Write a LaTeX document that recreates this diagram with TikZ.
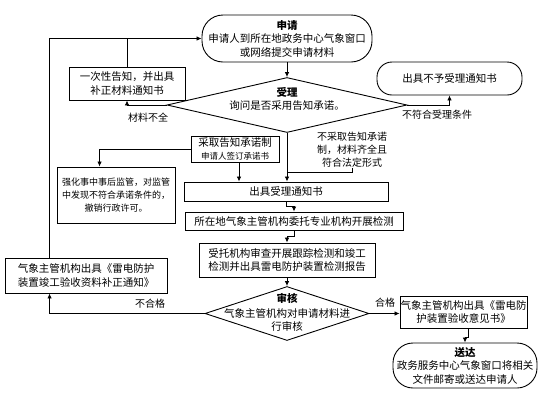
\documentclass[tikz,border=0pt]{standalone}
\usepackage{fontspec}
\setmainfont{Noto Sans CJK SC}
\usetikzlibrary{shapes.geometric,arrows.meta,calc}
\begin{document}
\begin{tikzpicture}[x=1pt,y=-1pt,
  every node/.style={font=\fontsize{10.5}{13.5}\selectfont, inner sep=0pt, align=center},
  box/.style={draw, line width=0.9pt},
  stadium/.style={draw, line width=0.9pt, rounded corners=21pt},
  decision/.style={draw, line width=0.9pt, diamond},
  small/.style={font=\fontsize{9}{13}\selectfont},
  lbl/.style={font=\fontsize{10}{13}\selectfont},
  conn/.style={line width=0.8pt},
  arr/.style={conn, -{Latex[length=5pt,width=4.5pt]}}
]
\useasboundingbox (0,0) rectangle (554,405);

% nodes
\node[stadium, minimum width=170pt, minimum height=47pt] (apply) at (287,38.5)
  {\textbf{申请}\\申请人到所在地政务中心气象窗口\\或网络提交申请材料};
\node[box, minimum width=116pt, minimum height=33pt] (notice1) at (127,83.5)
  {一次性告知，并出具\\补正材料通知书};
\node[decision, minimum width=240pt, minimum height=55pt] (accept) at (287,105) {};
\node at (287,92) {\textbf{受理}};
\node at (287,106) {询问是否采用告知承诺。};
\node[stadium, rounded corners=15pt, minimum width=145pt, minimum height=33pt] (reject) at (449.5,78.5)
  {出具不予受理通知书};
\node[box, minimum width=88pt, minimum height=26pt] (promise) at (235,149)
  {采取告知承诺制\\{\fontsize{8.5}{10}\selectfont 申请人签订承诺书}};
\node[box, small, minimum width=118pt, minimum height=56pt] (supervise) at (116,195)
  {强化事中事后监管，对监管\\中发现不符合承诺条件的，\\撤销行政许可。};
\node[box, minimum width=204pt, minimum height=19pt] (accnotice) at (286,191.5)
  {出具受理通知书};
\node[box, minimum width=218pt, minimum height=18pt] (entrust) at (294,221)
  {所在地气象主管机构委托专业机构开展检测};
\node[box, minimum width=176pt, minimum height=34pt] (test) at (287,260)
  {受托机构审查开展跟踪检测和竣工\\检测并出具雷电防护装置检测报告};
\node[decision, minimum width=164pt, minimum height=54pt] (review) at (287,313.5) {};
\node at (287,298) {\textbf{审核}};
\node at (287,320) {气象主管机构对申请材料进\\行审核};
\node[box, minimum width=162pt, minimum height=35pt] (correction) at (86,275.5)
  {气象主管机构出具《雷电防护\\装置竣工验收资料补正通知》};
\node[box, minimum width=127pt, minimum height=32pt] (opinion) at (463.5,312)
  {气象主管机构出具《雷电防\\护装置验收意见书》};
\node[stadium, minimum width=144pt, minimum height=45pt, rounded corners=20pt] (deliver) at (465,365.5)
  {\textbf{送达}\\政务服务中心气象窗口将相关\\文件邮寄或送达申请人};

% labels
\node[lbl] (l1) at (148,118) {材料不全};
\node[lbl] (l2) at (437,115) {不符合受理条件};
\node[lbl] (l3) at (352,150) {不采取告知承诺\\制，材料齐全且\\符合法定形式};
\node[lbl] (l4) at (150,304) {不合格};
\node[lbl] (l5) at (385,303) {合格};

\coordinate (j) at (287,172);

% connectors
\draw[arr] (apply.south) -- (accept.north);
\draw[arr] ([xshift=45pt]correction.north west) |- (apply.west);
\draw[conn] (notice1.north) -- (notice1.north |- apply.west);
\draw[arr] (accept.west) -| (notice1.south);
\draw[arr] (accept.east) -| (reject.south);
\draw[arr] (accept.south) -- (accept.south |- accnotice.north);
\draw[conn] (l3.south) |- (j);
\draw[arr] (promise.west) -| ([xshift=43pt]supervise.north west);
\draw[arr] ([xshift=4pt]promise.south) -- ([xshift=4pt]promise.south |- accnotice.north);
\draw[arr] (accnotice.south) -- ++(0,5) -| (entrust.north);
\draw[arr] (entrust.south) -- ++(0,6) -| (test.north);
\draw[arr] (test.south) -- (review.north);
\draw[arr] (review.west) -| ([xshift=45pt]correction.south west);
\draw[arr] (review.east) -- (review.east -| opinion.west);
\draw[arr] ([xshift=4.5pt]opinion.south) -- ++(0,9) -| (deliver.north);
\end{tikzpicture}
\end{document}
